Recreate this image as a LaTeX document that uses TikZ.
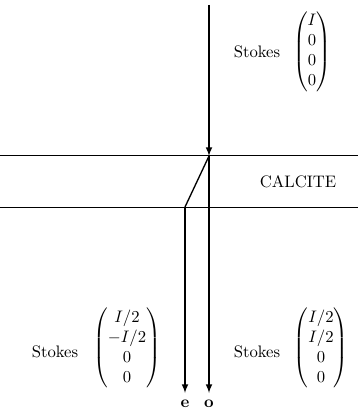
\documentclass[tikz,border=0pt]{standalone}
\usepackage{amsmath}
\usetikzlibrary{arrows.meta}
\begin{document}
\begin{tikzpicture}[x=0.6pt, y=-0.6pt, >=latex]
    \useasboundingbox (0,0) rectangle (358,410);
    \tikzset{surface/.style={semithick}, beam/.style={thick}}

    % crystal surfaces
    \coordinate (tl) at (0,156);   \coordinate (tr) at (358,156);
    \coordinate (bl) at (0,207);   \coordinate (br) at (358,207);
    \draw[surface] (tl) -- (tr);
    \draw[surface] (bl) -- (br);
    \node (calcite) at (298,182) {CALCITE};

    % incoming beam and the two rays
    \coordinate (src) at (209,5);
    \coordinate (entry) at (209,156);
    \coordinate (exit) at (185,207);
    \coordinate (oend) at (209,393);
    \coordinate (eend) at (185,393);
    \draw[beam, ->] (src) -- (entry);
    \draw[beam] (entry) -- (exit);
    \draw[beam, ->] (exit) -- (eend);
    \draw[beam, ->] (entry) -- (oend);
    \node[font=\bfseries] (elabel) at (185,404) {e};
    \node[font=\bfseries] (olabel) at (209,404) {o};

    % Stokes vectors
    \node (sin) at (257,52) {Stokes};
    \node (vin) at (312,52) {$\begin{pmatrix} I\\ 0\\ 0\\ 0 \end{pmatrix}$};
    \node (se) at (55,352) {Stokes};
    \node (ve) at (127,348) {$\begin{pmatrix} I/2\\ -I/2\\ 0\\ 0 \end{pmatrix}$};
    \node (so) at (257,352) {Stokes};
    \node (vo) at (321,348) {$\begin{pmatrix} I/2\\ I/2\\ 0\\ 0 \end{pmatrix}$};
\end{tikzpicture}
\end{document}
